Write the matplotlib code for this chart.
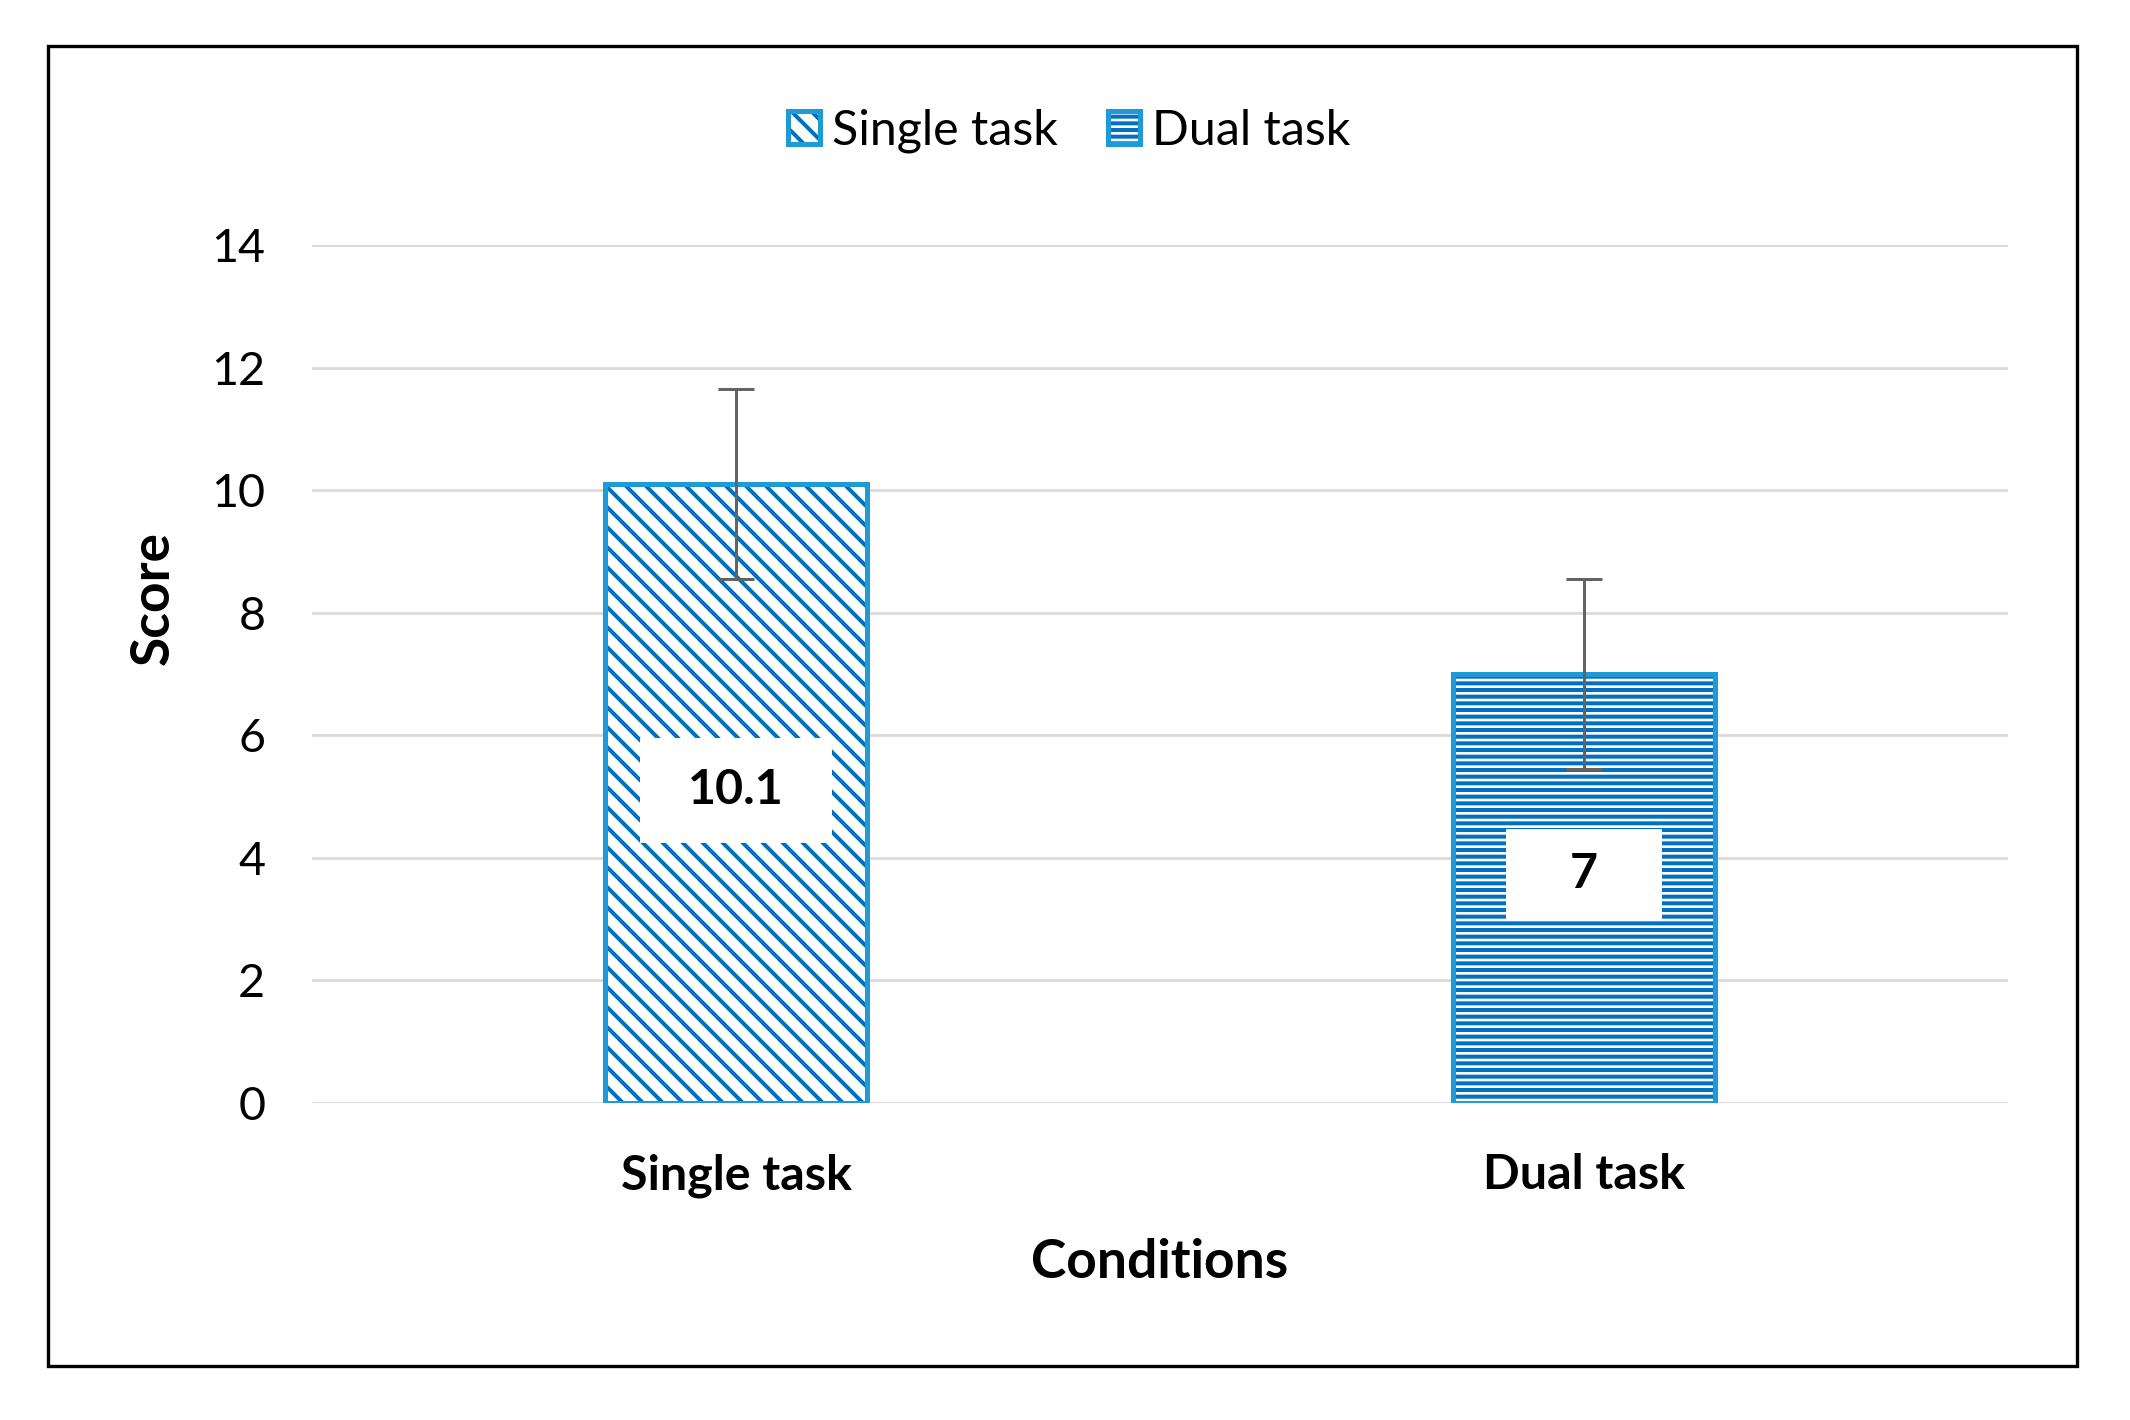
import matplotlib
matplotlib.use('Agg')
import matplotlib.pyplot as plt
from matplotlib.patches import Patch, Rectangle
from matplotlib.legend_handler import HandlerTuple

# chart data
conditions = ['Single task', 'Dual task']
scores = [10.1, 7.0]
errors = [1.55, 1.55]
label_text = ['10.1', '7']
label_y = [5.1, 3.74]
hatches = ['\\\\', '---']
y_ticks = [0, 2, 4, 6, 8, 10, 12, 14]

# label box padding (horizontal pad, vertical/horizontal ratio)
label_pad = [1.0, 1.32]
label_aspect = [0.63, 0.36]

plt.rcParams['font.family'] = ['Lato', 'DejaVu Sans']
plt.rcParams['hatch.linewidth'] = 2.4

dark_blue = '#0070C0'
light_blue = '#1E9BD7'

fig = plt.figure(figsize=(2130 / 120, 1420 / 120), dpi=120)
ax = fig.add_axes([312 / 2130, 1 - 1103 / 1420, 1696 / 2130, 858 / 1420])

x = list(range(len(conditions)))
width = 0.31

# hatched fill, then outline on top
for i in x:
    ax.bar(x[i], scores[i], width=width, color='white', edgecolor=dark_blue,
           hatch=hatches[i], linewidth=0, zorder=2)
    ax.bar(x[i], scores[i], width=width, fill=False, edgecolor=light_blue,
           linewidth=3.0, zorder=3)

ax.errorbar(x, scores, yerr=errors, fmt='none', ecolor='#636363',
            elinewidth=1.8, capsize=11, capthick=1.8, zorder=4)

for i in x:
    ax.text(x[i], label_y[i], label_text[i], ha='center', va='center',
            fontsize=29, fontweight='bold', zorder=5,
            bbox=dict(boxstyle='square,pad=%.2f' % label_pad[i], facecolor='white',
                      edgecolor='none', mutation_aspect=label_aspect[i]))

ax.set_xlim(-0.5, 1.5)
ax.set_ylim(0, 14)
ax.set_yticks(y_ticks)
ax.set_yticklabels([str(t) for t in y_ticks], fontsize=28)
ax.set_xticks(x)
ax.set_xticklabels(conditions, fontsize=29, fontweight='bold')
ax.tick_params(axis='both', length=0)
ax.tick_params(axis='y', pad=28)
ax.tick_params(axis='x', pad=30)
ax.yaxis.grid(True, color='#D9D9D9', linewidth=1.6, zorder=0)
ax.set_axisbelow(True)
for s in ax.spines.values():
    s.set_visible(False)

ax.set_ylabel('Score', fontsize=32, fontweight='bold')
ax.yaxis.set_label_coords(-0.079, 0.589)
ax.set_xlabel('Conditions', fontsize=32, fontweight='bold', labelpad=24)

handles = []
for i in x:
    h_fill = Patch(facecolor='white', edgecolor=dark_blue, hatch=hatches[i], linewidth=0)
    h_edge = Patch(fill=False, edgecolor=light_blue, linewidth=3.0)
    handles.append((h_fill, h_edge))
fig.legend(handles, conditions, loc='center', bbox_to_anchor=(0.502, 1 - 131 / 1420),
           ncol=2, frameon=False, fontsize=29, handlelength=0.66, handleheight=0.66,
           handletextpad=0.25, columnspacing=1.05,
           handler_map={tuple: HandlerTuple(ndivide=1, pad=0)})

# outer frame
fig.add_artist(Rectangle((48 / 2130, 1 - 1366 / 1420), (2077 - 48) / 2130, (1366 - 46) / 1420,
                         transform=fig.transFigure, fill=False, edgecolor='black', linewidth=2.0))

fig.savefig('out.png', dpi=120, facecolor='white')
